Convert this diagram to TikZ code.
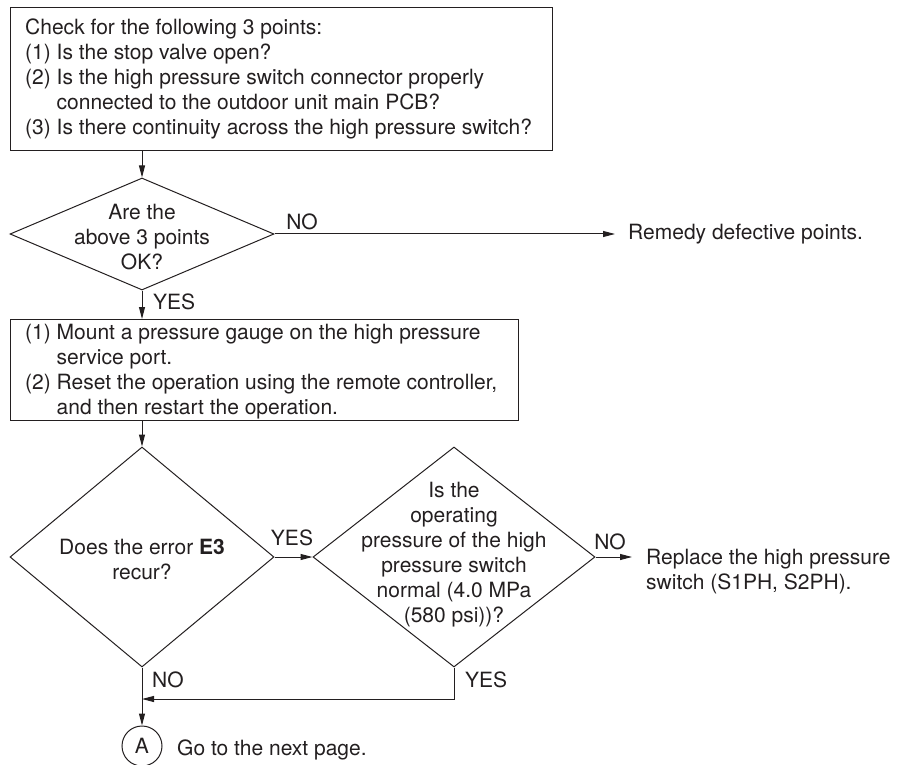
\documentclass[tikz,border=0pt]{standalone}
\usepackage{fontspec}
\setmainfont{TeX Gyre Heros}
\usetikzlibrary{arrows.meta,shapes.geometric}
\definecolor{ink}{RGB}{35,31,32}
\begin{document}
\begin{tikzpicture}[x=1pt,y=-1pt,
  every node/.style={text=ink, font=\fontsize{21}{25}\selectfont, inner sep=0pt},
  box/.style={draw=ink, line width=1.2pt, rectangle, anchor=north west},
  dia/.style={draw=ink, line width=1pt, diamond, inner sep=0pt},
  arr/.style={draw=ink, line width=1pt, -{Triangle[length=12pt,width=6pt]}},
  ln/.style={draw=ink, line width=1pt}]
\useasboundingbox (0,0) rectangle (898,765);

% boxes
\node[box, minimum width=542pt, minimum height=143pt] (b1) at (10,7) {};
\node[anchor=west, align=left] (t1) at (25,79) {Check for the following 3 points:\\(1) Is the stop valve open?\\(2) Is the high pressure switch connector properly\\\phantom{(2)}\ connected to the outdoor unit main PCB?\\(3) Is there continuity across the high pressure switch?};

\node[box, minimum width=508pt, minimum height=101pt] (b2) at (10,319) {};
\node[anchor=west, align=left] (t2) at (25,372) {(1) Mount a pressure gauge on the high pressure\\\phantom{(1)}\ service port.\\(2) Reset the operation using the remote controller,\\\phantom{(2)}\ and then restart the operation.};

% diamonds
\node[dia, minimum width=264pt, minimum height=112pt] (d1) at (142,234) {};
\node[align=center] (td1) at (142,237) {Are the\\above 3 points\\OK?};

\node[dia, minimum width=264pt, minimum height=220pt] (d3) at (142,557) {};
\node[align=center] (td3) at (142,560) {Does the error \textbf{E3}\\recur?};

\node[dia, minimum width=282pt, minimum height=220pt] (d4) at (454,557) {};
\node[align=center] (td4) at (454,555) {Is the\\operating\\pressure of the high\\pressure switch\\normal (4.0 MPa\\(580 psi))?};

% terminal texts
\node[anchor=west] (rem) at (628,234) {Remedy defective points.};
\node[anchor=west, align=left] (rep) at (646,572) {Replace the high pressure\\switch (S1PH, S2PH).};
\node[draw=ink, line width=1pt, circle, minimum size=40pt] (ca) at (142,746) {A};
\node[anchor=west] (go) at (177,750) {Go to the next page.};

% labels
\node (no1) at (302,222) {NO};
\node[anchor=west] (yes1) at (153,302) {YES};
\node (yes2) at (292,538) {YES};
\node (no2) at (610,542) {NO};
\node[anchor=west] (no3) at (152,680) {NO};
\node[anchor=west] (yes3) at (465,680) {YES};

% connectors
\draw[arr] (d1.north |- b1.south) -- (d1.north);
\draw[arr, shorten >=13pt] (d1.east) -- (d1.east -| rem.west);
\draw[arr] (d1.south) -- (d1.south |- b2.north);
\draw[arr] (d3.north |- b2.south) -- (d3.north);
\draw[arr] (d3.east) -- (d4.west);
\draw[arr, shorten >=14pt] (d4.east) -- (d4.east -| rep.west);
\draw[arr] (d3.south) -- (ca.north);
\coordinate (j) at (142,699);
\draw[arr] (d4.south) |- (j);
\end{tikzpicture}
\end{document}
